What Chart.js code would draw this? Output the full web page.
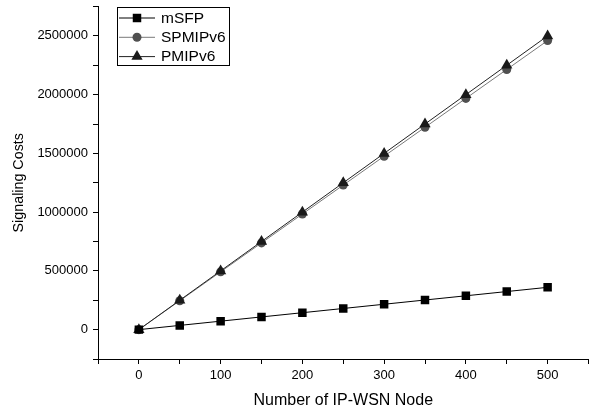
<!DOCTYPE html>
<html>
<head>
<meta charset="utf-8">
<script src="https://cdn.jsdelivr.net/npm/chart.js@4/dist/chart.umd.min.js"></script>
<style>
  html, body { margin: 0; padding: 0; background: #fff; }
  #wrap { width: 595px; height: 410px; }
</style>
</head>
<body>
<div id="wrap"><canvas id="chart"></canvas></div>
<script>
// Data
const nodes = [0, 50, 100, 150, 200, 250, 300, 350, 400, 450, 500];
const msfp = [0, 36000, 72000, 108000, 144000, 180000, 216000, 252000, 288000, 324000, 360000];
const spmipv6 = [0, 246000, 492000, 738000, 984000, 1230000, 1476000, 1722000, 1968000, 2214000, 2460000];
const pmipv6 = [0, 250000, 500000, 750000, 1000000, 1250000, 1500000, 1750000, 2000000, 2250000, 2500000];
const seriesNames = ["mSFP", "SPMIPv6", "PMIPv6"];

const FONT = "'Liberation Sans', Arial, sans-serif";

function toPoints(values) {
  return nodes.map((n, i) => ({ x: n, y: values[i] }));
}

// Boxed legend with line + marker samples
const boxLegend = {
  id: "boxLegend",
  afterDraw(chart) {
    const ctx = chart.ctx;
    const left = 117, top = 7, w = 112, h = 58;
    ctx.save();
    ctx.strokeStyle = "#000";
    ctx.lineWidth = 1;
    ctx.strokeRect(left + 0.5, top + 0.5, w, h);
    chart.data.datasets.forEach((ds, i) => {
      const y = top + 11 + i * 19.3;
      ctx.strokeStyle = ds.borderColor;
      ctx.lineWidth = ds.borderWidth;
      ctx.beginPath();
      ctx.moveTo(left + 2, y);
      ctx.lineTo(left + 38, y);
      ctx.stroke();
      ctx.fillStyle = ds.pointBackgroundColor;
      ctx.strokeStyle = ds.pointBorderColor;
      Chart.helpers.drawPoint(ctx, {
        pointStyle: ds.pointStyle,
        radius: ds.pointRadius,
        rotation: 0,
        borderWidth: 0
      }, left + 20, y);
      ctx.fillStyle = "#000";
      ctx.font = "15.5px " + FONT;
      ctx.textBaseline = "middle";
      ctx.fillText(ds.label, left + 44, y + 0.5);
    });
    ctx.restore();
  }
};

new Chart(document.getElementById("chart"), {
  type: "line",
  data: {
    datasets: [
      {
        label: seriesNames[0],
        data: toPoints(msfp),
        borderColor: "#000",
        borderWidth: 1,
        pointStyle: "rect",
        pointRadius: 6,
        pointBackgroundColor: "#000",
        pointBorderColor: "#000",
        pointBorderWidth: 0,
        order: 0
      },
      {
        label: seriesNames[1],
        data: toPoints(spmipv6),
        borderColor: "#7a7a7a",
        borderWidth: 1,
        pointStyle: "circle",
        pointRadius: 4.5,
        pointBackgroundColor: "#505050",
        pointBorderColor: "#505050",
        pointBorderWidth: 0,
        order: 2
      },
      {
        label: seriesNames[2],
        data: toPoints(pmipv6),
        borderColor: "#222",
        borderWidth: 1,
        pointStyle: "triangle",
        pointRadius: 6.5,
        pointBackgroundColor: "#1a1a1a",
        pointBorderColor: "#1a1a1a",
        pointBorderWidth: 0,
        order: 1
      }
    ]
  },
  options: {
    responsive: true,
    maintainAspectRatio: false,
    animation: false,
    layout: { padding: { top: 6, right: -2, left: 0, bottom: 0 } },
    plugins: {
      legend: { display: false },
      tooltip: { enabled: false }
    },
    scales: {
      x: {
        type: "linear",
        min: -50,
        max: 550,
        afterFit(scale) {
          scale.height = 51;
          scale.paddingLeft = 0;
          scale.paddingRight = 0;
        },
        border: { display: true, color: "#000", width: 1 },
        grid: { drawOnChartArea: false, drawTicks: true, tickLength: 5, tickColor: "#000" },
        ticks: {
          stepSize: 50,
          autoSkip: false,
          maxRotation: 0,
          padding: 4,
          color: "#000",
          font: { family: FONT, size: 13 },
          callback: (v) => (v >= 0 && v <= 500 && v % 100 === 0 ? String(v) : "")
        },
        title: {
          display: true,
          text: "Number of IP-WSN Node",
          color: "#000",
          font: { family: FONT, size: 16 },
          padding: { top: 0, bottom: 0 }
        }
      },
      y: {
        min: -250000,
        max: 2750000,
        afterFit(scale) {
          scale.width = 98;
          scale.paddingTop = 0;
          scale.paddingBottom = 0;
        },
        border: { display: true, color: "#000", width: 1 },
        grid: { drawOnChartArea: false, drawTicks: true, tickLength: 5, tickColor: "#000" },
        ticks: {
          stepSize: 250000,
          autoSkip: false,
          padding: 5,
          color: "#000",
          font: { family: FONT, size: 13 },
          callback: (v) => (v >= 0 && v <= 2500000 && v % 500000 === 0 ? String(v) : "")
        },
        title: {
          display: true,
          text: "Signaling Costs",
          color: "#000",
          font: { family: FONT, size: 14.3 },
          padding: { top: 10, bottom: 0 }
        }
      }
    }
  },
  plugins: [boxLegend]
});
</script>
</body>
</html>
